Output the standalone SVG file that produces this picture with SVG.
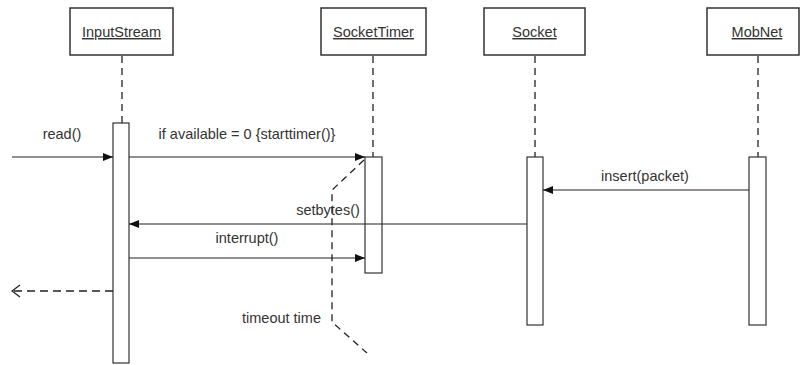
<svg xmlns="http://www.w3.org/2000/svg" width="800" height="365" viewBox="0 0 800 365">
  <style>
    .box { fill: #fff; stroke: #333; stroke-width: 1.5; }
    .bar { fill: #fff; stroke: #333; stroke-width: 1.2; }
    .life { stroke: #222; stroke-width: 1.3; stroke-dasharray: 7 5; fill: none; }
    .msg { stroke: #222; stroke-width: 1.2; fill: none; }
    .ret { stroke: #222; stroke-width: 1.3; stroke-dasharray: 8 5; fill: none; }
    .lbl { font-family: "Liberation Sans", Arial, sans-serif; font-size: 14.5px; fill: #333; }
    .name { font-family: "Liberation Sans", Arial, sans-serif; font-size: 14.5px; fill: #333; text-anchor: middle; text-decoration: underline; }
  </style>
  <defs>
    <marker id="solid" viewBox="0 0 10 10" refX="10" refY="5" markerWidth="10" markerHeight="10" markerUnits="userSpaceOnUse" orient="auto">
      <path d="M0,1 L10,5 L0,9 Z" fill="#111"/>
    </marker>
    <marker id="open" viewBox="0 0 10 14" refX="9" refY="7" markerWidth="10" markerHeight="14" markerUnits="userSpaceOnUse" orient="auto">
      <path d="M1,1 L9,7 L1,13" fill="none" stroke="#222" stroke-width="1.3"/>
    </marker>
  </defs>
  <rect width="800" height="365" fill="#fff"/>

  <!-- lifelines -->
  <g id="lifelines">
    <line class="life" x1="122" y1="56" x2="122" y2="123"/>
    <line class="life" x1="373" y1="56" x2="373" y2="157"/>
    <line class="life" x1="535" y1="56" x2="535" y2="157"/>
    <line class="life" x1="758" y1="56" x2="758" y2="157"/>
  </g>

  <g id="InputStream">
    <rect class="box" x="70" y="8" width="103" height="47"/>
    <text class="name" x="121.5" y="37">InputStream</text>
    <rect class="bar" x="113" y="123" width="16" height="240"/>
  </g>
  <g id="SocketTimer">
    <rect class="box" x="321" y="8" width="105" height="47"/>
    <text class="name" x="373.5" y="37">SocketTimer</text>
    <rect class="bar" x="365" y="157" width="17" height="116"/>
  </g>
  <g id="Socket">
    <rect class="box" x="484" y="8" width="101" height="47"/>
    <text class="name" x="534.5" y="37">Socket</text>
    <rect class="bar" x="527" y="157" width="16" height="168"/>
  </g>
  <g id="MobNet">
    <rect class="box" x="707" y="8" width="92" height="47"/>
    <text class="name" x="757" y="37">MobNet</text>
    <rect class="bar" x="749" y="157" width="17" height="168"/>
  </g>

  <g id="connectors">
    <line class="msg" x1="12" y1="157" x2="113" y2="157" marker-end="url(#solid)"/>
    <line class="msg" x1="129" y1="157" x2="365" y2="157" marker-end="url(#solid)"/>
    <line class="msg" x1="749" y1="190" x2="543" y2="190" marker-end="url(#solid)"/>
    <line class="msg" x1="527" y1="224" x2="129" y2="224" marker-end="url(#solid)"/>
    <line class="msg" x1="129" y1="258" x2="365" y2="258" marker-end="url(#solid)"/>
    <line class="ret" x1="113" y1="291" x2="12" y2="291" marker-end="url(#open)"/>
    <!-- timeout constraint -->
    <polyline class="life" points="364,160 332,190 332,322 367,353"/>
  </g>

  <g id="labels">
    <text class="lbl" x="62" y="139" text-anchor="middle">read()</text>
    <text class="lbl" x="247" y="139" text-anchor="middle">if available = 0 {starttimer()}</text>
    <text class="lbl" x="645" y="181" text-anchor="middle">insert(packet)</text>
    <text class="lbl" x="328" y="215" text-anchor="middle">setbytes()</text>
    <text class="lbl" x="247" y="243" text-anchor="middle">interrupt()</text>
    <text class="lbl" x="321" y="323" text-anchor="end">timeout time</text>
  </g>
</svg>
